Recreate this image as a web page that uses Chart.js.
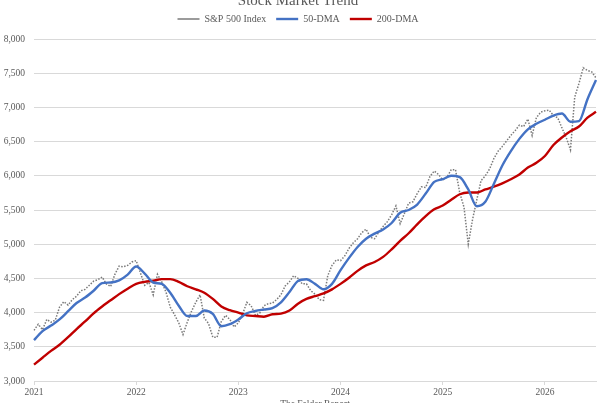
<!DOCTYPE html>
<html><head><meta charset="utf-8">
<script src="https://cdn.jsdelivr.net/npm/chart.js@4.4.1/dist/chart.umd.min.js"></script>
<style>
html,body{margin:0;padding:0;overflow:hidden;background:#fff;width:600px;height:403px;}
#wrap{position:absolute;left:0;top:-12px;width:600px;height:430px;}
</style></head><body>
<div id="wrap"><canvas id="c"></canvas></div>
<script>
const chartTitle = 'Stock Market Trend';
const sourceNote = 'The Felder Report';
const seriesNames = ['S&P 500 Index', '50-DMA', '200-DMA'];
const yearLabels = ['2021', '2022', '2023', '2024', '2025', '2026'];

const dates = [
'2021-01-01','2021-01-15','2021-02-01','2021-02-15','2021-03-01','2021-03-15','2021-04-01','2021-04-15','2021-05-01','2021-05-15','2021-06-01','2021-06-15',
'2021-07-01','2021-07-15','2021-08-01','2021-08-15','2021-09-01','2021-09-15','2021-10-01','2021-10-15','2021-11-01','2021-11-15','2021-12-01','2021-12-15',
'2022-01-01','2022-01-15','2022-02-01','2022-02-15','2022-03-01','2022-03-15','2022-04-01','2022-04-15','2022-05-01','2022-05-15','2022-06-01','2022-06-15',
'2022-07-01','2022-07-15','2022-08-01','2022-08-15','2022-09-01','2022-09-15','2022-10-01','2022-10-15','2022-11-01','2022-11-15','2022-12-01','2022-12-15',
'2023-01-01','2023-01-15','2023-02-01','2023-02-15','2023-03-01','2023-03-15','2023-04-01','2023-04-15','2023-05-01','2023-05-15','2023-06-01','2023-06-15',
'2023-07-01','2023-07-15','2023-08-01','2023-08-15','2023-09-01','2023-09-15','2023-10-01','2023-10-15','2023-11-01','2023-11-15','2023-12-01','2023-12-15',
'2024-01-01','2024-01-15','2024-02-01','2024-02-15','2024-03-01','2024-03-15','2024-04-01','2024-04-15','2024-05-01','2024-05-15','2024-06-01','2024-06-15',
'2024-07-01','2024-07-15','2024-08-01','2024-08-15','2024-09-01','2024-09-15','2024-10-01','2024-10-15','2024-11-01','2024-11-15','2024-12-01','2024-12-15',
'2025-01-01','2025-01-15','2025-02-01','2025-02-15','2025-03-01','2025-03-15','2025-04-01','2025-04-15','2025-05-01','2025-05-15','2025-06-01','2025-06-15',
'2025-07-01','2025-07-15','2025-08-01','2025-08-15','2025-09-01','2025-09-15','2025-10-01','2025-10-15','2025-11-01','2025-11-15','2025-12-01','2025-12-15',
'2026-01-01','2026-01-15','2026-02-01','2026-02-15','2026-03-01','2026-03-15','2026-04-01','2026-04-15','2026-05-01','2026-05-15','2026-06-01','2026-06-15',
'2026-07-01'
];

const spx = [
3740,3830,3750,3900,3860,3890,4080,4160,4110,4190,4240,4320,4340,4400,4460,4480,4520,4420,4380,4560,4680,4670,4690,4740,
4760,4580,4400,4440,4260,4560,4450,4300,4080,3970,3850,3680,3860,4020,4150,4260,3920,3840,3640,3640,3870,3960,3900,3790,
3850,3980,4150,4100,3960,3990,4100,4130,4140,4190,4260,4390,4450,4540,4500,4420,4420,4320,4270,4190,4180,4540,4690,4770,
4760,4830,4940,5020,5080,5170,5220,5100,5080,5180,5260,5330,5430,5560,5300,5450,5600,5620,5740,5840,5830,5990,6070,6020,
5940,5980,6090,6090,5750,5540,5000,5360,5650,5930,6000,6100,6250,6360,6430,6510,6590,6660,6740,6720,6830,6590,6850,6930,
6950,6960,6880,6850,6700,6560,6380,7150,7350,7580,7540,7520,7430
];

const dma50 = [
3597,3730,3810,3900,4020,4140,4220,4320,4430,4440,4470,4555,
4675,4570,4440,4420,4290,4100,3950,3950,4030,3980,3800,3830,
3900,3990,4024,4045,4065,4150,4300,4463,4488,4420,4341,4420,
4620,4800,4960,5080,5155,5215,5310,5460,5500,5580,5740,5910,
5950,6000,5980,5800,5555,5620,5880,6150,6360,6540,6680,6760,
6820,6880,6910,6790,6800,7120,7400
];

const dma200 = [
3240,3340,3440,3530,3640,3760,3870,3990,4090,4180,4270,4350,
4420,4450,4465,4490,4490,4450,4385,4340,4290,4200,4090,4035,
4000,3960,3950,3940,3975,3985,4030,4130,4200,4240,4280,4340,
4420,4510,4610,4690,4740,4815,4925,5050,5160,5290,5410,5510,
5565,5650,5730,5755,5755,5800,5840,5890,5950,6020,6120,6190,
6290,6450,6560,6650,6720,6850,6935
];

const dmaDates = dates.filter(d => d.endsWith('-01'));
const toPoints = (xs, ys) => xs.map((x, i) => ({x: x, y: ys[i]}));

const FONT = "'Liberation Serif', 'Times New Roman', serif";
const TXT = '#595959';
const GRID = '#d9d9d9';

new Chart(document.getElementById('c'), {
  type: 'line',
  data: {
    labels: dates,
    datasets: [
      { label: seriesNames[0], data: spx, borderColor: '#7a7a7a', backgroundColor: '#7a7a7a',
        borderWidth: 1.5, borderDash: [1.5, 1.5], pointRadius: 0, pointStyle: 'line', tension: 0, order: 3 },
      { label: seriesNames[1], data: toPoints(dmaDates, dma50), borderColor: '#4472C4', backgroundColor: '#4472C4',
        borderWidth: 2.4, pointRadius: 0, pointStyle: 'line', cubicInterpolationMode: 'monotone', order: 1 },
      { label: seriesNames[2], data: toPoints(dmaDates, dma200), borderColor: '#C00000', backgroundColor: '#C00000',
        borderWidth: 2.4, pointRadius: 0, pointStyle: 'line', cubicInterpolationMode: 'monotone', order: 2 }
    ]
  },
  options: {
    responsive: true,
    maintainAspectRatio: false,
    animation: false,
    layout: { padding: { left: 0, right: 4, top: 0, bottom: 0 } },
    plugins: {
      title: { display: true, text: chartTitle, color: TXT,
        font: { family: FONT, size: 15, weight: 'normal' }, padding: { top: 4, bottom: -6 } },
      subtitle: { display: true, text: ' ', color: 'rgba(0,0,0,0)', position: 'top', weight: 500,
        font: { family: FONT, size: 5, lineHeight: 1 }, padding: 0 },
      legend: { display: true, position: 'top',
        labels: { usePointStyle: true, pointStyleWidth: 22, color: TXT, padding: 10,
          font: { family: FONT, size: 10 },
          sort: (a, b) => a.datasetIndex - b.datasetIndex } },
      tooltip: { enabled: false }
    },
    scales: {
      x: {
        type: 'category',
        afterFit: (s) => { s.height = 37; },
        grid: { display: true, drawOnChartArea: false, drawTicks: true, tickLength: 4, color: GRID },
        border: { display: true, color: GRID },
        ticks: {
          autoSkip: false, maxRotation: 0, minRotation: 0, padding: 2, color: TXT,
          font: { family: FONT, size: 9.5 },
          callback: function (val) {
            const lab = this.getLabelForValue(val);
            const yr = lab.slice(0, 4);
            return (lab.endsWith('-01-01') && yearLabels.includes(yr)) ? yr : null;
          }
        },
        title: { display: true, text: sourceNote, color: TXT,
          font: { family: FONT, size: 9.5 }, padding: { top: 0, bottom: 8 } }
      },
      y: {
        min: 3000, max: 8000,
        afterFit: (s) => { s.width = 34; },
        grid: { color: GRID, drawTicks: false, lineWidth: 1 },
        border: { display: false },
        ticks: { stepSize: 500, padding: 9, color: TXT,
          font: { family: FONT, size: 9.5 },
          callback: (v) => v.toLocaleString('en-US') }
      }
    }
  }
});
</script>
</body></html>
